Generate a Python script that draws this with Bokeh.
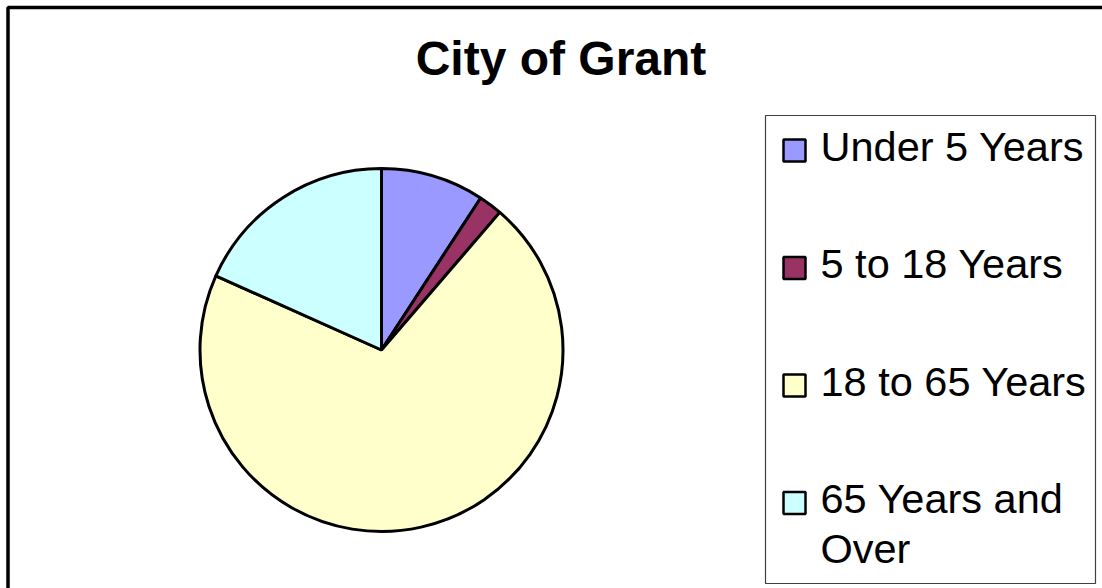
import numpy as np
from bokeh.plotting import figure
from bokeh.models import Range1d, ColumnDataSource
from bokeh.core.properties import value
from bokeh.embed import file_html
from bokeh.resources import INLINE

# ---- data ----
title = "City of Grant"
categories = ["Under 5 Years", "5 to 18 Years", "18 to 65 Years", "65 Years and Over"]
shares = [9.2, 2.1, 70.4, 18.3]
colors = ["#9999FF", "#993366", "#FFFFCC", "#CCFFFF"]
label_lines = {"65 Years and Over": ["65 Years and", "Over"]}

W, H = 1102, 588
p = figure(width=W, height=H, output_backend="svg", toolbar_location=None,
           x_range=Range1d(0, W), y_range=Range1d(0, H), min_border=0,
           x_axis_type=None, y_axis_type=None)
p.grid.visible = False
p.outline_line_color = None
p.background_fill_color = "white"
p.border_fill_color = "white"

# outer chart border (left and top visible; rest cut off in the reference)
p.line(x=[7.5, 7.5, W], y=[0, H - 7, H - 7], line_color="black", line_width=3.5)

# title
TFS = 48
p.text(x=[560.5], y=[H - 76 + 0.37 * TFS], text=[title], text_font=value("Liberation Sans"),
       text_font_style="bold", text_font_size=f"{TFS}px", text_align="center",
       text_baseline="alphabetic", text_color="black")

# pie
vals = np.array(shares, dtype=float)
frac = vals / vals.sum()
cum = np.concatenate([[0.0], np.cumsum(frac)])
start = np.pi / 2 - cum[:-1] * 2 * np.pi
end = np.pi / 2 - cum[1:] * 2 * np.pi
src = ColumnDataSource(dict(cat=categories, start=start, end=end, color=colors))
p.wedge(x=381, y=H - 349.5, radius=181.5, start_angle="start", end_angle="end",
        direction="clock", fill_color="color", line_color="black", line_width=3,
        source=src)

# legend box
p.quad(left=[765], right=[1095], top=[H - 115], bottom=[H - 583], fill_color="white",
       line_color="#404040", line_width=1.2)

# legend items
LFS = 41.5
step = 117.5
top_center = H - 150
sq_x, sq_y, txt_x, txt_y, txt = [], [], [], [], []
for i, cat in enumerate(categories):
    cy = top_center - i * step
    sq_x.append(794)
    sq_y.append(cy)
    lines = label_lines.get(cat, [cat])
    for j, ln in enumerate(lines):
        txt_x.append(820)
        txt_y.append(cy - 11 + 0.37 * LFS - j * 50)
        txt.append(ln)
p.rect(x=sq_x, y=sq_y, width=22, height=22, fill_color=colors,
       line_color="black", line_width=2.5)
p.text(x=txt_x, y=txt_y, text=txt, text_font=value("Liberation Sans"),
       text_font_size=f"{LFS}px", text_align="left", text_baseline="alphabetic",
       text_color="black")

open("out.html", "w").write(file_html(p, INLINE))
